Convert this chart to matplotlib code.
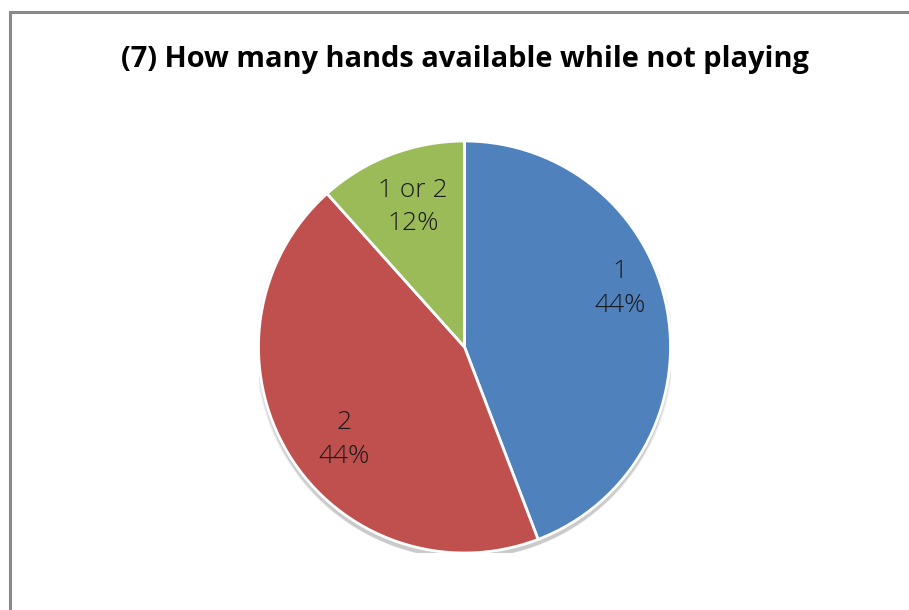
import matplotlib
matplotlib.use("Agg")
import matplotlib.pyplot as plt
from matplotlib.patches import Rectangle, Circle

# survey answers (counts)
labels = ["1", "2", "1 or 2"]
counts = [19, 19, 5]
colors = ["#4F81BD", "#C0504D", "#9BBB59"]
title = "(7) How many hands available while not playing"

# label placement inside the pie (Excel best-fit style), in pie radius units
label_xy = [(0.757, 0.285), (-0.583, -0.45), (-0.25, 0.68)]

fig = plt.figure(figsize=(9.09, 6.10), dpi=100)

# chart frame
fig.patches.append(Rectangle((9.5 / 909, -0.05), 1.0, 1 - 11.5 / 610 + 0.05,
                             transform=fig.transFigure, fill=False,
                             edgecolor="#898989", linewidth=2.2))

fig.text(0.511, 1 - 59 / 610, title, ha="center", va="center",
         fontsize=20.9, fontweight="bold", family=["Open Sans", "DejaVu Sans"],
         color="#000000")

r_px = 206
cx, cy = 464.5, 347
ax = fig.add_axes([(cx - r_px) / 909, (610 - cy - r_px) / 610,
                   2 * r_px / 909, 2 * r_px / 610])

# soft shadow under the pie
for i, a in enumerate([0.04, 0.05, 0.06, 0.07]):
    ax.add_patch(Circle((0, -0.014 - 0.004 * i), 1.0 + 0.005 * (3 - i),
                        color="black", alpha=a, zorder=0, lw=0))

wedges, _ = ax.pie(counts, colors=colors, startangle=90, counterclock=False,
                   radius=1.0, wedgeprops=dict(edgecolor="white", linewidth=2))
for w in wedges:
    w.set_zorder(2)

total = sum(counts)
for lab, n, (x, y) in zip(labels, counts, label_xy):
    ax.text(x, y, f"{lab}\n{round(100 * n / total)}%", ha="center", va="center",
            fontsize=19, fontweight="light", family=["Open Sans", "DejaVu Sans"],
            color="#1a1a1a", linespacing=1.45, zorder=3)

ax.set_xlim(-1, 1)
ax.set_ylim(-1, 1)
ax.set_aspect("equal")
ax.axis("off")

fig.savefig("out.png", dpi=100)
